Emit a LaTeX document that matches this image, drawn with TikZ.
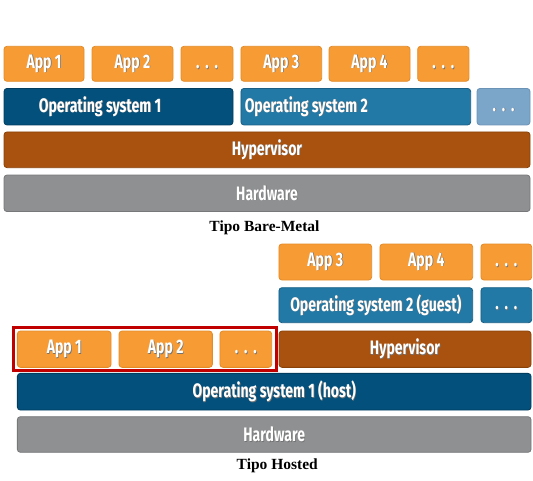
\documentclass[tikz,border=0pt]{standalone}
\usepackage{fontspec}
\setmainfont{Liberation Serif}
\newfontfamily\boxfont[FakeStretch=0.72]{Fira Sans}
\begin{document}
\begin{tikzpicture}[x=1pt,y=-1pt,
  % white label with a faint drop shadow
  lbl/.style={text=white,font=\boxfont\bfseries\fontsize{19.5}{22}\selectfont,inner sep=0pt},
  layer/.style={rounded corners=3pt,line width=0.8pt,inner sep=0pt,anchor=center,
    text=white,font=\boxfont\bfseries\fontsize{19.5}{22}\selectfont},
  appbox/.style={layer,fill=appfill,draw=appline},
  osa/.style={layer,fill=osafill,draw=osaline},
  osb/.style={layer,fill=osbfill,draw=osbline},
  osc/.style={layer,fill=oscfill,draw=oscline},
  hyp/.style={layer,fill=hypfill,draw=hypline},
  hw/.style={layer,fill=hwfill,draw=hwline},
  caption/.style={font=\bfseries\fontsize{15.5}{18}\selectfont,inner sep=0pt}]
\definecolor{appfill}{HTML}{F79B34}\definecolor{appline}{HTML}{E48B27}
\definecolor{osafill}{HTML}{03507C}\definecolor{osaline}{HTML}{023D5F}
\definecolor{osbfill}{HTML}{2379A6}\definecolor{osbline}{HTML}{195F86}
\definecolor{oscfill}{HTML}{7BA5C9}\definecolor{oscline}{HTML}{6A93B6}
\definecolor{hypfill}{HTML}{A9520F}\definecolor{hypline}{HTML}{8A4209}
\definecolor{hwfill}{HTML}{8F9092}\definecolor{hwline}{HTML}{77787A}
\definecolor{hilite}{HTML}{C00000}
\newcommand{\sh}[1]{\makebox[0pt][l]{\hspace{0.7pt}\raisebox{-0.7pt}{\color{black!55}#1}}#1}
\newcommand{\more}{\vphantom{Ap}\sh{.\hspace{0.3em}.\hspace{0.3em}.}}
\useasboundingbox (0,0) rectangle (533,480);

% ---- bare-metal stack ----
\node[appbox,minimum width=80pt,minimum height=35pt] (ba1) at (44,63.8) {\sh{App 1}};
\node[appbox,minimum width=81pt,minimum height=35pt] (ba2) at (132.5,63.8) {\sh{App 2}};
\node[appbox,minimum width=52pt,minimum height=35pt] (bd1) at (207,63.8) {\more};
\node[appbox,minimum width=80.7pt,minimum height=35pt] (ba3) at (281.3,63.8) {\sh{App 3}};
\node[appbox,minimum width=81pt,minimum height=35pt] (ba4) at (369.5,63.8) {\sh{App 4}};
\node[appbox,minimum width=51.3pt,minimum height=35pt] (bd2) at (443.3,63.8) {\more};

\node[osa,minimum width=229pt,minimum height=36.5pt] (bos1) at (118.5,106.7) {};
\node[lbl,anchor=west] (bos1t) at ([xshift=35pt]bos1.west) {\sh{Operating system 1}};
\node[osb,minimum width=229.7pt,minimum height=36.5pt] (bos2) at (355.8,106.7) {};
\node[lbl,anchor=west] (bos2t) at ([xshift=4pt]bos2.west) {\sh{Operating system 2}};
\node[osc,minimum width=53pt,minimum height=36.5pt] (bos3) at (503.5,106.7) {\more};

\node[hyp,minimum width=526pt,minimum height=35.7pt] (bhyp) at (267,149.8) {\sh{Hypervisor}};
\node[hw,minimum width=526pt,minimum height=36.5pt] (bhw) at (267,193.3) {\sh{Hardware}};

\node[caption] (bcap) at (264.5,228) {Tipo Bare-Metal};

% ---- hosted stack ----
\node[appbox,minimum width=92.7pt,minimum height=36pt] (ha3) at (325.3,262) {\sh{App 3}};
\node[appbox,minimum width=92.7pt,minimum height=36pt] (ha4) at (426.3,262) {\sh{App 4}};
\node[appbox,minimum width=50.7pt,minimum height=36pt] (hd2) at (506.3,262) {\more};

\node[osb,minimum width=193.7pt,minimum height=35pt] (hos2) at (375.8,305.2) {\sh{Operating system 2 (guest)}};
\node[osb,minimum width=50.7pt,minimum height=35pt] (hos3) at (506.3,305.2) {\more};

\node[appbox,minimum width=93.7pt,minimum height=36.3pt] (ha1) at (64.2,349.2) {\sh{App 1}};
\node[appbox,minimum width=93.3pt,minimum height=36.3pt] (ha2) at (165.7,349.2) {\sh{App 2}};
\node[appbox,minimum width=51.7pt,minimum height=36.3pt] (hd1) at (245.8,349.2) {\more};
\node[hyp,minimum width=252pt,minimum height=36.3pt] (hhyp) at (405,349.2) {\sh{Hypervisor}};

\node[osa,minimum width=513.7pt,minimum height=36.7pt] (hos1) at (274.2,391.7) {\sh{Operating system 1 (host)}};
\node[hw,minimum width=513.7pt,minimum height=35.6pt] (hhw) at (274.2,434.5) {\sh{Hardware}};

% host applications outlined in red
\draw[hilite,line width=3pt] (13.3,327.5) rectangle (276.8,370.2);

\node[caption] (hcap) at (277.3,466) {Tipo Hosted};
\end{tikzpicture}
\end{document}
